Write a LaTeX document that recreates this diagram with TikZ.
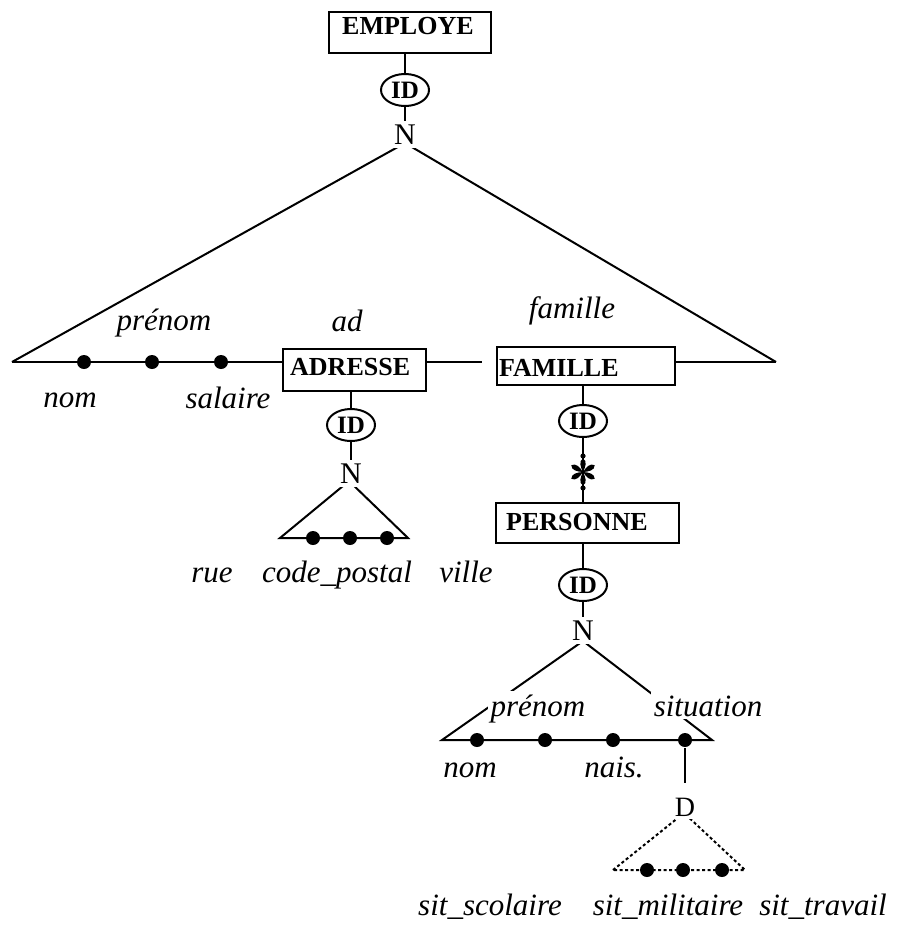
\documentclass[tikz,border=0pt]{standalone}
\usepackage{fontspec}
\setmainfont{Liberation Serif}
\usetikzlibrary{shapes.geometric}

\begin{document}
\begin{tikzpicture}[x=1pt,y=-1pt,
  line width=2pt,
  ebox/.style={draw, line width=2.4pt, inner ysep=0pt, anchor=base west, align=left,
    font=\fontsize{26}{26}\selectfont\bfseries},
  idnode/.style={draw, ellipse, line width=2pt, minimum width=48pt, minimum height=32pt,
    inner sep=0pt, font=\fontsize{25}{25}\selectfont\bfseries},
  card/.style={fill=white, inner sep=3pt, font=\fontsize{30}{30}\selectfont},
  dotnode/.style={circle, fill=black, minimum size=14pt, inner sep=0pt},
  attr/.style={anchor=base, inner sep=1pt, font=\fontsize{31}{31}\selectfont\itshape},
  cutattr/.style={attr, fill=white, inner sep=3pt},
  dline/.style={line width=2pt, dash pattern=on 3pt off 2.5pt}
]
\useasboundingbox (0,0) rectangle (902,926);

% corner points of the aggregation triangles
\coordinate (t1) at (405,143);
\coordinate (l1) at (12,362);
\coordinate (r1) at (776,362);
\coordinate (gap1) at (482,362);
\coordinate (t2) at (349,481);
\coordinate (l2) at (280,538);
\coordinate (r2) at (408,538);
\coordinate (t4) at (583,641);
\coordinate (l4) at (442,740);
\coordinate (r4) at (712,740);
\coordinate (t5) at (684,813);
\coordinate (l5) at (613,870);
\coordinate (r5) at (745,870);
\coordinate (dend) at (685,783);
\coordinate (ast) at (583,472);

% entity boxes
\node[ebox, inner xsep=13pt, text width=136pt, text height=22pt, text depth=19pt] (employe) at (328,34) {EMPLOYE};
\node[ebox, inner xsep=7pt, text width=129pt, text height=26pt, text depth=16pt] (adresse) at (282,375) {ADRESSE};
\node[ebox, inner xsep=2pt, text width=174pt, text height=29pt, text depth=9pt] (famille) at (496,376) {FAMILLE};
\node[ebox, inner xsep=10pt, text width=163pt, text height=27pt, text depth=13pt] (personne) at (495,530) {PERSONNE};

% triangles
\draw (l1) -- (t1) -- (r1);
\draw (l1) -- (adresse.west |- l1);
\draw (adresse.east |- l1) -- (gap1);
\draw (famille.east |- r1) -- (r1);
\draw (l2) -- (t2) -- (r2) -- cycle;
\draw (l4) -- (t4) -- (r4) -- cycle;
\draw[dline] (l5) -- (t5) -- (r5) -- cycle;

% attribute dots
\node[dotnode] (e1) at (84,362) {};
\node[dotnode] (e2) at (152,362) {};
\node[dotnode] (e3) at (221,362) {};
\node[dotnode] (a1) at (313,538) {};
\node[dotnode] (a2) at (350,538) {};
\node[dotnode] (a3) at (387,538) {};
\node[dotnode] (p1) at (477,740) {};
\node[dotnode] (p2) at (545,740) {};
\node[dotnode] (p3) at (613,740) {};
\node[dotnode] (p4) at (685,740) {};
\node[dotnode] (s1) at (647,870) {};
\node[dotnode] (s2) at (683,870) {};
\node[dotnode] (s3) at (722,870) {};

% cardinality marks
\node[card] (n1) at (405,135) {N};
\node[card] (n2) at (351,474) {N};
\node[card] (n4) at (583,631) {N};
\node[card, font=\fontsize{28}{28}\selectfont] (dd) at (685,807) {D};

% identifier ellipses
\node[idnode] (id1) at (405,90) {ID};
\node[idnode] (id2) at (351,425) {ID};
\node[idnode] (id3) at (583,421) {ID};
\node[idnode] (id4) at (583,585) {ID};

% connectors
\draw (id1.north |- employe.south) -- (id1.north);
\draw (id1.south) -- (n1.north);
\draw (id2.north |- adresse.south) -- (id2.north);
\draw (id2.south) -- (n2.north);
\draw (id3.north |- famille.south) -- (id3.north);
\draw (id3.south) -- (personne.north -| id3.south);
\draw (id4.north |- personne.south) -- (id4.north);
\draw (id4.south) -- (n4.north);
\draw (p4) -- (dend);

% multivalued asterisk: six teardrop petals
\foreach \a in {0,60,...,300}
  \fill[shift={(ast)}, rotate=\a]
    (0,0) .. controls (-2.5,5) and (-4.5,11) .. (0,13.5)
          .. controls (4.5,11) and (2.5,5) .. (0,0);
\fill[shift={(ast)}] (0,-16) circle (2.6) (0,16) circle (2.6);

% attribute labels
\node[attr] (lnom) at (70,407) {nom};
\node[attr] (lprenom) at (164,330) {prénom};
\node[attr] (lsalaire) at (228,408) {salaire};
\node[attr] (lad) at (347,331) {ad};
\node[attr] (lfamille) at (572,318) {famille};
\node[attr] (lrue) at (212,582) {rue};
\node[attr] (lcp) at (337,582) {code\_postal};
\node[attr] (lville) at (466,582) {ville};
\node[cutattr] (pprenom) at (538,716) {prénom};
\node[cutattr] (psituation) at (708,716) {situation};
\node[attr] (pnom) at (470,777) {nom};
\node[attr] (pnais) at (614,777) {nais.};
\node[attr] (sscol) at (490,915) {sit\_scolaire};
\node[attr] (smil) at (668,915) {sit\_militaire};
\node[attr] (strav) at (823,915) {sit\_travail};
\end{tikzpicture}
\end{document}
